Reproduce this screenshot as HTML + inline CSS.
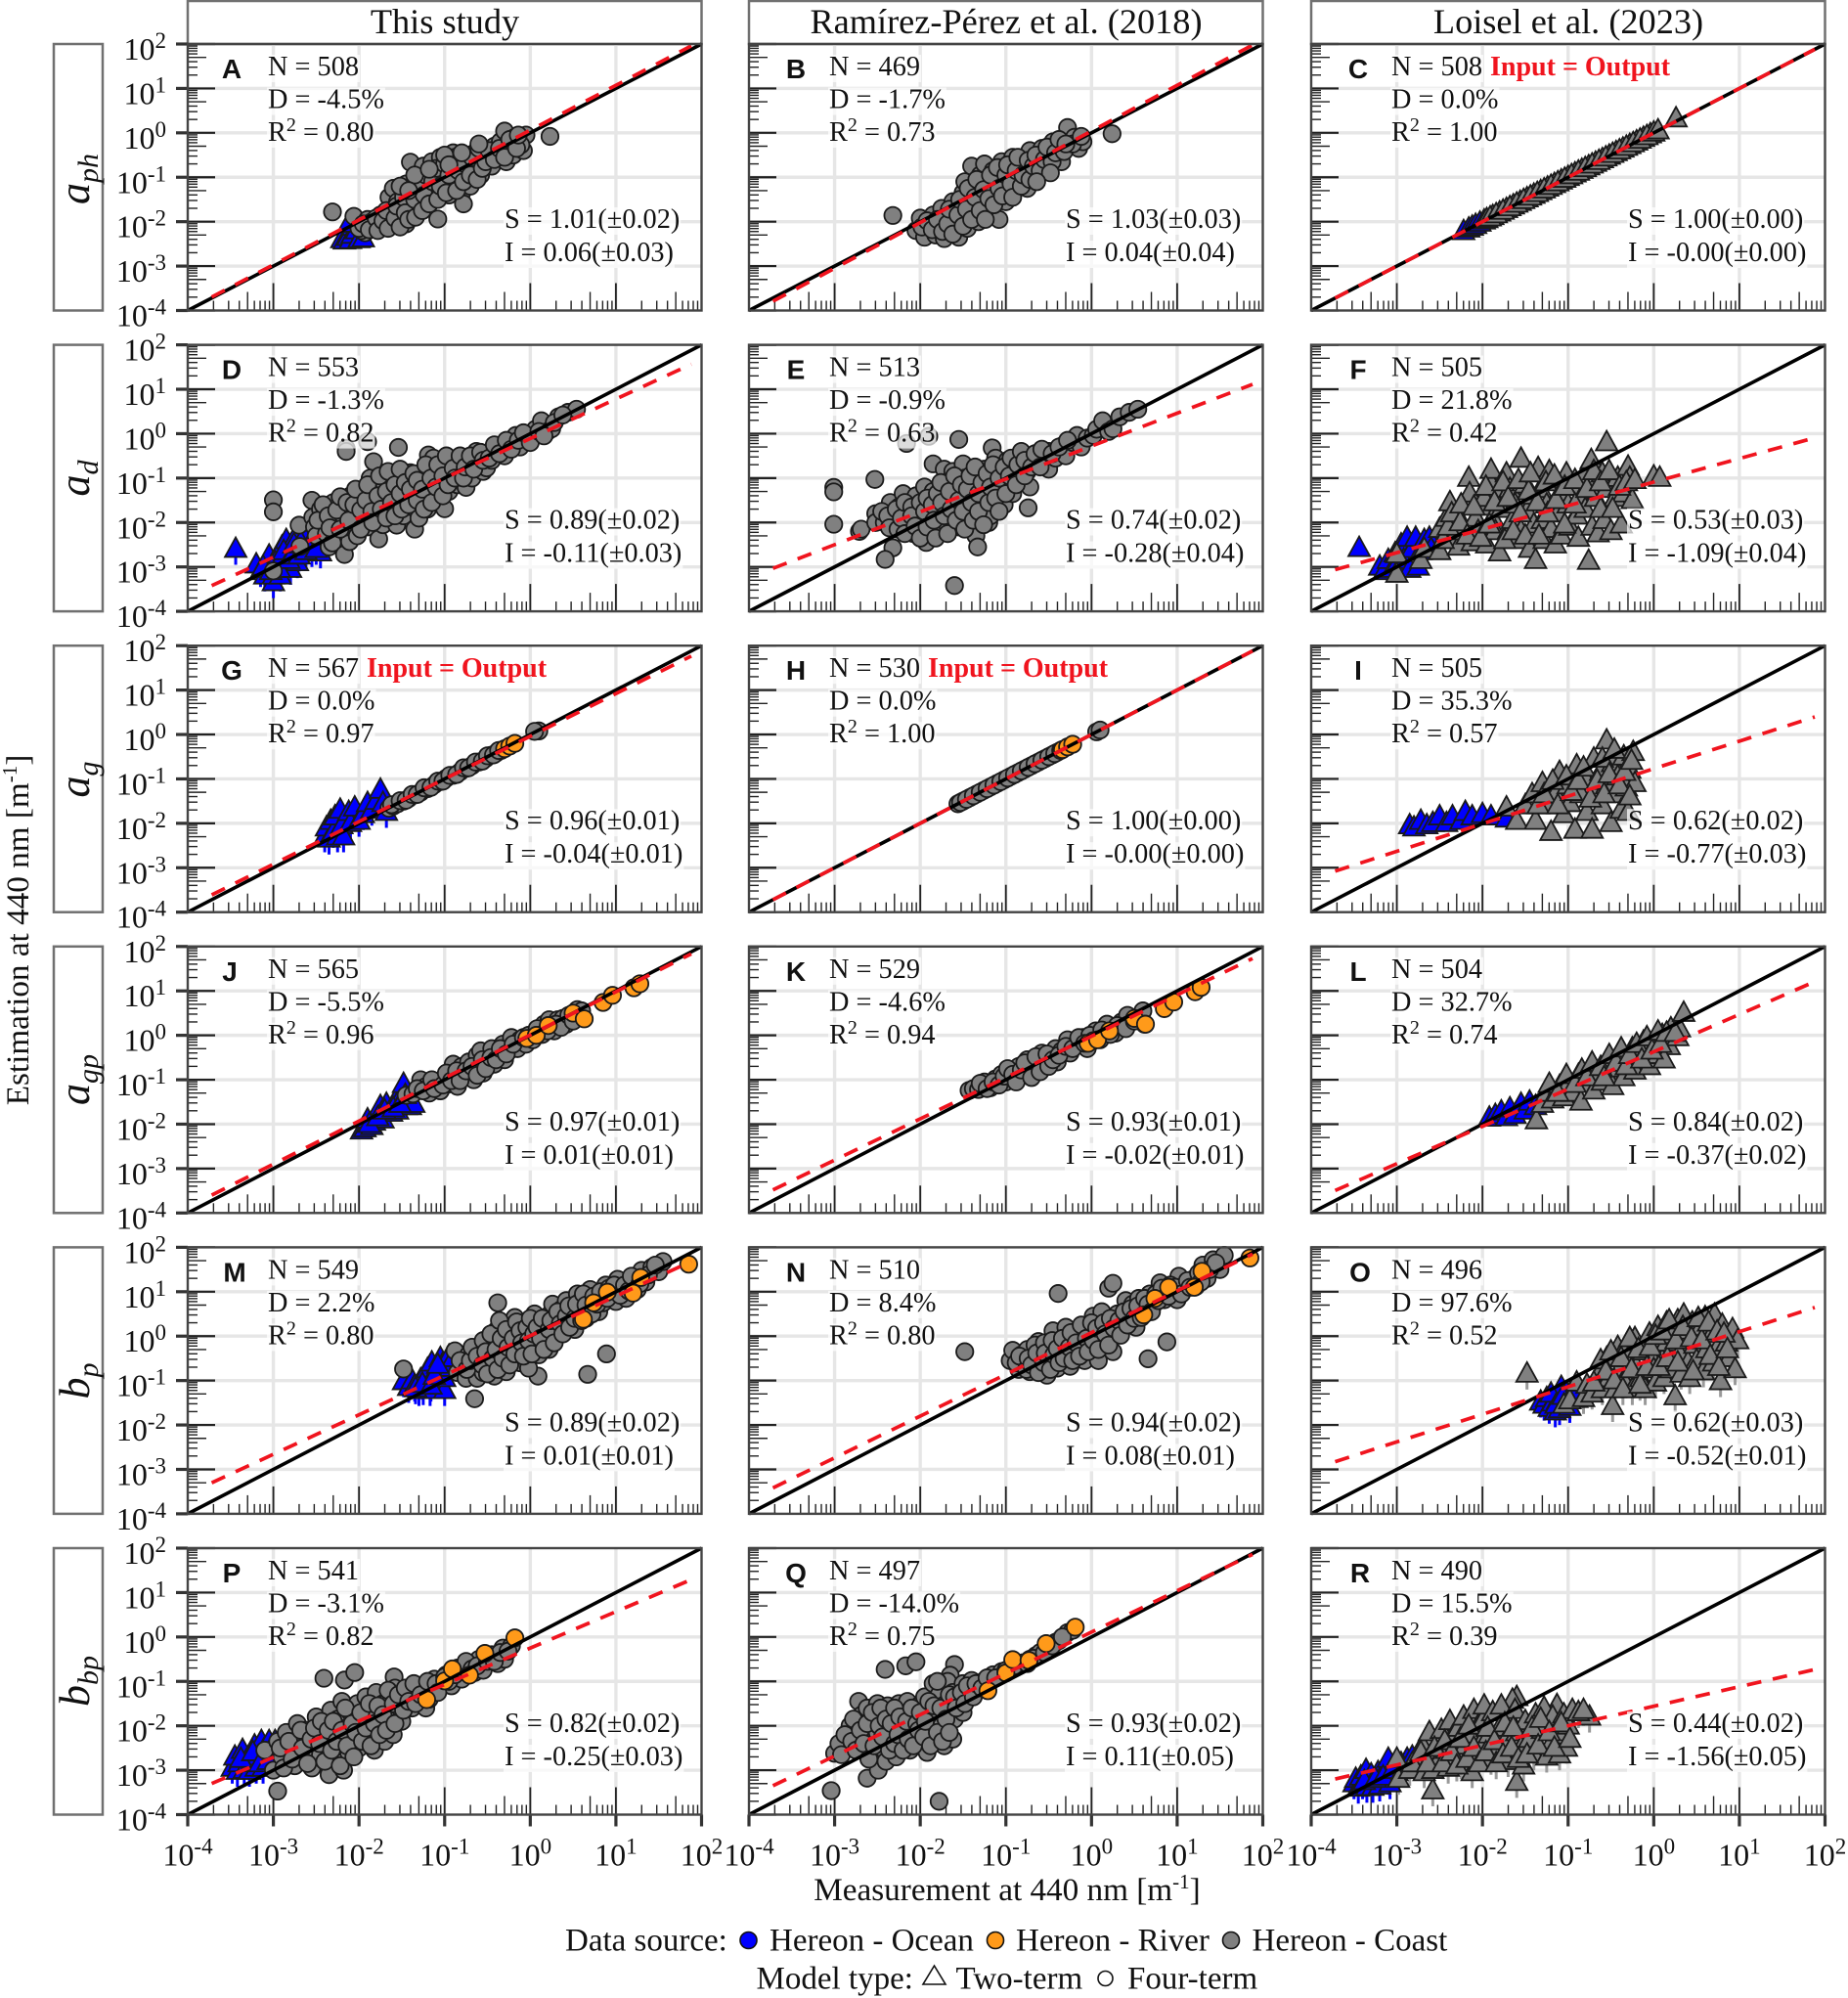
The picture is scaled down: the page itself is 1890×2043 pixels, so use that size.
<!DOCTYPE html>
<html lang="en">
<head>
<meta charset="utf-8">
<title>Estimation vs measurement at 440 nm</title>
<style>
html,body{margin:0;padding:0;background:#fff}
svg{display:block;font-family:"Liberation Serif",serif;fill:#111}
.st{font-size:28.3px}
.sup{font-size:20px}
.letter{font-family:"Liberation Sans",sans-serif;font-weight:bold;font-size:28px;text-anchor:middle;fill:#111}
.io{font-size:28px;font-weight:bold;fill:#f0141e}
.head{font-size:36.3px;text-anchor:middle}
.rowlab{font-size:44px;font-style:italic;text-anchor:middle}
.rowlab tspan{font-size:30px}
.title{font-size:33.2px}
.leg{font-size:33px}
.box{fill:#fff;stroke:#707070;stroke-width:2.5}
.tl{font-size:32px}
</style>
</head>
<body>
<svg id="chart" xmlns="http://www.w3.org/2000/svg" width="1890" height="2043" viewBox="0 0 1890 2043">
<rect width="1890" height="2043" fill="#fff"/>

<g>
<rect class="box" x="192" y="1" width="525.5" height="44"/>
<text class="head" x="455" y="34">This study</text>
<rect class="box" x="766" y="1" width="525.5" height="44"/>
<text class="head" x="1029" y="34">Ramírez-Pérez et al. (2018)</text>
<rect class="box" x="1341" y="1" width="525.5" height="44"/>
<text class="head" x="1604" y="34">Loisel et al. (2023)</text>
</g>

<g>
<rect class="box" x="55" y="45" width="50" height="272.5"/>
<text class="rowlab" transform="translate(91,183) rotate(-90)">a<tspan dy="9">ph</tspan></text>
<rect class="box" x="55" y="352.6" width="50" height="272.5"/>
<text class="rowlab" transform="translate(91,489) rotate(-90)">a<tspan dy="9">d</tspan></text>
<rect class="box" x="55" y="660.2" width="50" height="272.5"/>
<text class="rowlab" transform="translate(91,797) rotate(-90)">a<tspan dy="9">g</tspan></text>
<rect class="box" x="55" y="967.8" width="50" height="272.5"/>
<text class="rowlab" transform="translate(91,1104) rotate(-90)">a<tspan dy="9">gp</tspan></text>
<rect class="box" x="55" y="1275.4" width="50" height="272.5"/>
<text class="rowlab" transform="translate(91,1412) rotate(-90)">b<tspan dy="9">p</tspan></text>
<rect class="box" x="55" y="1583" width="50" height="272.5"/>
<text class="rowlab" transform="translate(91,1719) rotate(-90)">b<tspan dy="9">bp</tspan></text>
</g>

<text class="title" transform="translate(29,951) rotate(-90)" text-anchor="middle">Estimation at 440 nm [m<tspan font-size="21" dy="-12">-1</tspan><tspan dy="12">]</tspan></text>
<text class="title" x="1030" y="1943" text-anchor="middle">Measurement at 440 nm [m<tspan font-size="21" dy="-12">-1</tspan><tspan dy="12">]</tspan></text>

<g class="panel" transform="translate(192,45)"><g class="marks"></g>
<text class="letter" x="45" y="35">A</text>
<text class="st" x="82" y="32">N = 508</text>
<text class="st" x="82" y="65.5">D = -4.5%</text>
<text class="st" x="82" y="99">R<tspan class="sup" dy="-10">2</tspan><tspan dy="10"> = 0.80</tspan></text>
<text class="st" x="324" y="188">S = 1.01(±0.02)</text>
<text class="st" x="324" y="222">I = 0.06(±0.03)</text></g>

<g class="panel" transform="translate(766,45)"><g class="marks"></g>
<text class="letter" x="48" y="35">B</text>
<text class="st" x="82" y="32">N = 469</text>
<text class="st" x="82" y="65.5">D = -1.7%</text>
<text class="st" x="82" y="99">R<tspan class="sup" dy="-10">2</tspan><tspan dy="10"> = 0.73</tspan></text>
<text class="st" x="324" y="188">S = 1.03(±0.03)</text>
<text class="st" x="324" y="222">I = 0.04(±0.04)</text></g>

<g class="panel" transform="translate(1341,45)"><g class="marks"></g>
<text class="letter" x="48" y="35">C</text>
<text class="st" x="82" y="32">N = 508</text>
<text class="io" x="183" y="32">Input = Output</text>
<text class="st" x="82" y="65.5">D = 0.0%</text>
<text class="st" x="82" y="99">R<tspan class="sup" dy="-10">2</tspan><tspan dy="10"> = 1.00</tspan></text>
<text class="st" x="324" y="188">S = 1.00(±0.00)</text>
<text class="st" x="324" y="222">I = -0.00(±0.00)</text></g>

<g class="panel" transform="translate(192,352.6)"><g class="marks"></g>
<text class="letter" x="45" y="35">D</text>
<text class="st" x="82" y="32">N = 553</text>
<text class="st" x="82" y="65.5">D = -1.3%</text>
<text class="st" x="82" y="99">R<tspan class="sup" dy="-10">2</tspan><tspan dy="10"> = 0.82</tspan></text>
<text class="st" x="324" y="188">S = 0.89(±0.02)</text>
<text class="st" x="324" y="222">I = -0.11(±0.03)</text></g>

<g class="panel" transform="translate(766,352.6)"><g class="marks"></g>
<text class="letter" x="48" y="35">E</text>
<text class="st" x="82" y="32">N = 513</text>
<text class="st" x="82" y="65.5">D = -0.9%</text>
<text class="st" x="82" y="99">R<tspan class="sup" dy="-10">2</tspan><tspan dy="10"> = 0.63</tspan></text>
<text class="st" x="324" y="188">S = 0.74(±0.02)</text>
<text class="st" x="324" y="222">I = -0.28(±0.04)</text></g>

<g class="panel" transform="translate(1341,352.6)"><g class="marks"></g>
<text class="letter" x="48" y="35">F</text>
<text class="st" x="82" y="32">N = 505</text>
<text class="st" x="82" y="65.5">D = 21.8%</text>
<text class="st" x="82" y="99">R<tspan class="sup" dy="-10">2</tspan><tspan dy="10"> = 0.42</tspan></text>
<text class="st" x="324" y="188">S = 0.53(±0.03)</text>
<text class="st" x="324" y="222">I = -1.09(±0.04)</text></g>

<g class="panel" transform="translate(192,660.2)"><g class="marks"></g>
<text class="letter" x="45" y="35">G</text>
<text class="st" x="82" y="32">N = 567</text>
<text class="io" x="183" y="32">Input = Output</text>
<text class="st" x="82" y="65.5">D = 0.0%</text>
<text class="st" x="82" y="99">R<tspan class="sup" dy="-10">2</tspan><tspan dy="10"> = 0.97</tspan></text>
<text class="st" x="324" y="188">S = 0.96(±0.01)</text>
<text class="st" x="324" y="222">I = -0.04(±0.01)</text></g>

<g class="panel" transform="translate(766,660.2)"><g class="marks"></g>
<text class="letter" x="48" y="35">H</text>
<text class="st" x="82" y="32">N = 530</text>
<text class="io" x="183" y="32">Input = Output</text>
<text class="st" x="82" y="65.5">D = 0.0%</text>
<text class="st" x="82" y="99">R<tspan class="sup" dy="-10">2</tspan><tspan dy="10"> = 1.00</tspan></text>
<text class="st" x="324" y="188">S = 1.00(±0.00)</text>
<text class="st" x="324" y="222">I = -0.00(±0.00)</text></g>

<g class="panel" transform="translate(1341,660.2)"><g class="marks"></g>
<text class="letter" x="48" y="35">I</text>
<text class="st" x="82" y="32">N = 505</text>
<text class="st" x="82" y="65.5">D = 35.3%</text>
<text class="st" x="82" y="99">R<tspan class="sup" dy="-10">2</tspan><tspan dy="10"> = 0.57</tspan></text>
<text class="st" x="324" y="188">S = 0.62(±0.02)</text>
<text class="st" x="324" y="222">I = -0.77(±0.03)</text></g>

<g class="panel" transform="translate(192,967.8)"><g class="marks"></g>
<text class="letter" x="43" y="35">J</text>
<text class="st" x="82" y="32">N = 565</text>
<text class="st" x="82" y="65.5">D = -5.5%</text>
<text class="st" x="82" y="99">R<tspan class="sup" dy="-10">2</tspan><tspan dy="10"> = 0.96</tspan></text>
<text class="st" x="324" y="188">S = 0.97(±0.01)</text>
<text class="st" x="324" y="222">I = 0.01(±0.01)</text></g>

<g class="panel" transform="translate(766,967.8)"><g class="marks"></g>
<text class="letter" x="48" y="35">K</text>
<text class="st" x="82" y="32">N = 529</text>
<text class="st" x="82" y="65.5">D = -4.6%</text>
<text class="st" x="82" y="99">R<tspan class="sup" dy="-10">2</tspan><tspan dy="10"> = 0.94</tspan></text>
<text class="st" x="324" y="188">S = 0.93(±0.01)</text>
<text class="st" x="324" y="222">I = -0.02(±0.01)</text></g>

<g class="panel" transform="translate(1341,967.8)"><g class="marks"></g>
<text class="letter" x="48" y="35">L</text>
<text class="st" x="82" y="32">N = 504</text>
<text class="st" x="82" y="65.5">D = 32.7%</text>
<text class="st" x="82" y="99">R<tspan class="sup" dy="-10">2</tspan><tspan dy="10"> = 0.74</tspan></text>
<text class="st" x="324" y="188">S = 0.84(±0.02)</text>
<text class="st" x="324" y="222">I = -0.37(±0.02)</text></g>

<g class="panel" transform="translate(192,1275.4)"><g class="marks"></g>
<text class="letter" x="48" y="35">M</text>
<text class="st" x="82" y="32">N = 549</text>
<text class="st" x="82" y="65.5">D = 2.2%</text>
<text class="st" x="82" y="99">R<tspan class="sup" dy="-10">2</tspan><tspan dy="10"> = 0.80</tspan></text>
<text class="st" x="324" y="188">S = 0.89(±0.02)</text>
<text class="st" x="324" y="222">I = 0.01(±0.01)</text></g>

<g class="panel" transform="translate(766,1275.4)"><g class="marks"></g>
<text class="letter" x="48" y="35">N</text>
<text class="st" x="82" y="32">N = 510</text>
<text class="st" x="82" y="65.5">D = 8.4%</text>
<text class="st" x="82" y="99">R<tspan class="sup" dy="-10">2</tspan><tspan dy="10"> = 0.80</tspan></text>
<text class="st" x="324" y="188">S = 0.94(±0.02)</text>
<text class="st" x="324" y="222">I = 0.08(±0.01)</text></g>

<g class="panel" transform="translate(1341,1275.4)"><g class="marks"></g>
<text class="letter" x="50" y="35">O</text>
<text class="st" x="82" y="32">N = 496</text>
<text class="st" x="82" y="65.5">D = 97.6%</text>
<text class="st" x="82" y="99">R<tspan class="sup" dy="-10">2</tspan><tspan dy="10"> = 0.52</tspan></text>
<text class="st" x="324" y="188">S = 0.62(±0.03)</text>
<text class="st" x="324" y="222">I = -0.52(±0.01)</text></g>

<g class="panel" transform="translate(192,1583)"><g class="marks"></g>
<text class="letter" x="45" y="35">P</text>
<text class="st" x="82" y="32">N = 541</text>
<text class="st" x="82" y="65.5">D = -3.1%</text>
<text class="st" x="82" y="99">R<tspan class="sup" dy="-10">2</tspan><tspan dy="10"> = 0.82</tspan></text>
<text class="st" x="324" y="188">S = 0.82(±0.02)</text>
<text class="st" x="324" y="222">I = -0.25(±0.03)</text></g>

<g class="panel" transform="translate(766,1583)"><g class="marks"></g>
<text class="letter" x="48" y="35">Q</text>
<text class="st" x="82" y="32">N = 497</text>
<text class="st" x="82" y="65.5">D = -14.0%</text>
<text class="st" x="82" y="99">R<tspan class="sup" dy="-10">2</tspan><tspan dy="10"> = 0.75</tspan></text>
<text class="st" x="324" y="188">S = 0.93(±0.02)</text>
<text class="st" x="324" y="222">I = 0.11(±0.05)</text></g>

<g class="panel" transform="translate(1341,1583)"><g class="marks"></g>
<text class="letter" x="50" y="35">R</text>
<text class="st" x="82" y="32">N = 490</text>
<text class="st" x="82" y="65.5">D = 15.5%</text>
<text class="st" x="82" y="99">R<tspan class="sup" dy="-10">2</tspan><tspan dy="10"> = 0.39</tspan></text>
<text class="st" x="324" y="188">S = 0.44(±0.02)</text>
<text class="st" x="324" y="222">I = -1.56(±0.05)</text></g>

<g>
<text class="leg" x="578" y="1994.5">Data source:</text>
<circle cx="765.5" cy="1984" r="8.5" fill="#0000ff" stroke="#111" stroke-width="1.6"/>
<text class="leg" x="787" y="1994.5">Hereon - Ocean</text>
<circle cx="1018" cy="1984" r="8.5" fill="#ff9a1a" stroke="#111" stroke-width="1.6"/>
<text class="leg" x="1039" y="1994.5">Hereon - River</text>
<circle cx="1259" cy="1984" r="8.5" fill="#808080" stroke="#111" stroke-width="1.6"/>
<text class="leg" x="1280.5" y="1994.5">Hereon - Coast</text>
<text class="leg" x="773.5" y="2033.5">Model type:</text>
<polygon points="955.5,2010 967,2029 944,2029" fill="none" stroke="#111" stroke-width="1.6"/>
<text class="leg" x="977.5" y="2033.5">Two-term</text>
<circle cx="1130.5" cy="2023" r="7.5" fill="none" stroke="#111" stroke-width="1.6"/>
<text class="leg" x="1153" y="2033.5">Four-term</text>
</g>
</svg>

<script>
const panelLetters = ['A','B','C','D','E','F','G','H','I','J','K','L','M','N','O','P','Q','R'];
const slopes =     [1.01,1.03,1.00, 0.89,0.74,0.53, 0.96,1.00,0.62, 0.97,0.93,0.84, 0.89,0.94,0.62, 0.82,0.93,0.44];
const intercepts = [0.06,0.04,0.00,-0.11,-0.28,-1.09,-0.04,0.00,-0.77,0.01,-0.02,-0.37,0.01,0.08,-0.52,-0.25,0.11,-1.56];
const fitStart = -3.72;
const fitEnd = 1.88;
const decadeExponents = [-4,-3,-2,-1,0,1,2];
const decadeLabels = ['-4','-3','-2','-1','0','1','2'];
const minorMultipliers = [2,3,4,5,6,7,8,9];

const oceanA=[[-2.2,-2.4],[-2.17,-2.43],[-2.13,-2.35],[-2.1,-2.42],[-2.07,-2.12],[-2.08,-2.3],[-2.03,-2.2],[-2.0,-2.4],[-1.95,-2.38],[-2.12,-2.05]];
const coastA=[[-2.31,-1.78],[-2.06,-1.88],[-1.93,-2.25],[-1.97,-2.2],[-2.0,-2.15],[-1.9,-1.95],[-1.85,-2.0],[-1.82,-2.1],[-1.75,-1.85],[-1.75,-2.02],[-1.7,-2.1],[-1.65,-1.95],[-1.6,-1.8],[-1.62,-2.05],[-1.55,-2.02],[-1.5,-1.7],[-1.5,-1.9],[-1.45,-2.05],[-1.65,-1.45],[-1.6,-1.25],[-1.55,-1.55],[-1.48,-1.35],[-1.45,-1.15],[-1.4,-1.6],[-1.38,-1.75],[-1.4,-.66],[-1.3,-1.0],[-1.3,-1.35],[-1.3,-1.6],[-1.25,-.75],[-1.2,-1.15],[-1.2,-1.45],[-1.15,-.65],[-1.12,-.95],[-1.1,-1.3],[-1.08,-1.94],[-1.05,-.55],[-1.03,-.8],[-1.0,-1.1],[-.98,-.6],[-.95,-1.4],[-.92,-.9],[-.9,-1.2],[-.9,-.45],[-.85,-.7],[-.82,-1.05],[-.8,-1.35],[-.78,-1.6],[-.75,-.5],[-.72,-.85],[-.7,-1.2],[-.65,-.45],[-.62,-.7],[-.58,-.95],[-.55,-.4],[-.5,-.55],[-.45,-.75],[-.42,-.3],[-.38,-.55],[-.35,-.2],[-.32,-.45],[-.3,.04],[-.28,-.65],[-.25,-.3],[-.2,-.5],[-.18,-.1],[-.12,-.2],[-.08,-.4],[-.05,-.05],[-.11,-.27],[.23,-.08]];
const extraA=[[-1.95,-2.05],[-1.88,-2.18],[-1.8,-1.92],[-1.78,-2.2],[-1.72,-1.98],[-1.68,-1.75],[-1.66,-2.15],[-1.58,-1.92],[-1.56,-1.65],[-1.52,-2.12],[-1.48,-1.45],[-1.46,-1.8],[-1.42,-1.95],[-1.36,-1.2],[-1.35,-1.5],[-1.34,-1.9],[-1.28,-1.2],[-1.26,-1.75],[-1.24,-1.4],[-1.22,-.95],[-1.18,-1.6],[-1.14,-1.1],[-1.1,-.8],[-1.08,-1.5],[-1.05,-1.2],[-1,-.7],[-.98,-1.35],[-.95,-.95],[-.88,-.55],[-.86,-1.3],[-.84,-.85],[-.78,-1.1],[-.76,-.7],[-.7,-.95],[-.68,-.55],[-.62,-1.05],[-.6,-.35],[-.56,-.8],[-.52,-.65],[-.48,-.4],[-.42,-.6],[-.36,-.35],[-.3,-.55],[-.24,-.15],[-.16,-.35],[-.14,-.05],[-1.52,-1.2],[-1.35,-.95],[-1.42,-1.3],[-1.18,-.82],[-1.0,-.5],[-.8,-.45],[-.95,-.72],[-.6,-.25]];
const coastB=[[-2.32,-1.86],[-2.05,-2.2],[-2.0,-1.92],[-1.95,-2.35],[-1.9,-2.1],[-1.85,-1.85],[-1.82,-2.3],[-1.78,-2.05],[-1.75,-1.7],[-1.72,-2.38],[-1.7,-1.9],[-1.65,-2.2],[-1.62,-1.55],[-1.6,-2.0],[-1.58,-1.75],[-1.55,-2.35],[-1.5,-1.35],[-1.5,-1.9],[-1.48,-1.1],[-1.45,-2.15],[-1.42,-1.55],[-1.4,-.75],[-1.38,-1.8],[-1.35,-1.25],[-1.32,-2.0],[-1.3,-.95],[-1.28,-1.5],[-1.25,-.7],[-1.22,-1.15],[-1.2,-1.75],[-1.15,-.85],[-1.12,-1.35],[-1.1,-1.05],[-1.08,-1.95],[-1.05,-.65],[-1.02,-1.2],[-1.0,-1.55],[-.95,-.9],[-.92,-.55],[-.9,-1.3],[-.85,-1.05],[-.82,-.65],[-.78,-.85],[-.75,-1.25],[-.72,-.4],[-.68,-1.0],[-.62,-.6],[-.58,-.35],[-.55,-.85],[-.5,-.55],[-.45,-.2],[-.4,-.4],[-.35,-.65],[-.32,-.1],[-.28,.12],[-.25,-.3],[-.2,-.1],[-.15,-.35],[-.1,-.2],[.24,-.02]];
const extraB=[[-1.98,-2.12],[-1.92,-1.98],[-1.86,-2.18],[-1.8,-1.95],[-1.74,-2.22],[-1.68,-2.05],[-1.66,-1.72],[-1.62,-2.28],[-1.56,-1.85],[-1.54,-1.5],[-1.5,-2.1],[-1.46,-1.72],[-1.44,-1.25],[-1.4,-1.95],[-1.36,-1.45],[-1.34,-1.05],[-1.3,-1.75],[-1.26,-1.28],[-1.24,-1.95],[-1.2,-1.48],[-1.18,-.95],[-1.14,-1.62],[-1.1,-.78],[-1.08,-1.25],[-1.04,-1.42],[-1,-.95],[-.98,-.72],[-.94,-1.15],[-.92,-1.45],[-.88,-.85],[-.86,-.55],[-.82,-1.2],[-.8,-.95],[-.74,-.62],[-.72,-1.05],[-.68,-.75],[-.65,-.5],[-.6,-.85],[-.55,-.6],[-.52,-.32],[-.46,-.65],[-.42,-.45],[-.38,-.15],[-.32,-.42],[-.22,-.25],[-.12,-.08],[-.48,-.9],[-.64,-1.1],[-.3,-.25]];
const oceanC=[[-2.22,-2.22],[-2.16,-2.16],[-2.12,-2.12],[-2.08,-2.08],[-2.03,-2.03],[-1.98,-1.98]];
const coastC=[[-1.95,-1.95],[-1.88,-1.88],[-1.8,-1.8],[-1.72,-1.72],[-1.64,-1.64],[-1.56,-1.56],[-1.48,-1.48],[-1.4,-1.4],[-1.32,-1.32],[-1.24,-1.24],[-1.16,-1.16],[-1.08,-1.08],[-1.0,-1.0],[-.92,-.92],[-.84,-.84],[-.76,-.76],[-.68,-.68],[-.6,-.6],[-.52,-.52],[-.44,-.44],[-.36,-.36],[-.28,-.28],[-.2,-.2],[-.12,-.12],[-.04,-.04],[.26,.32]];
const extraC=[[-1.91,-1.91],[-1.84,-1.84],[-1.76,-1.76],[-1.68,-1.68],[-1.6,-1.6],[-1.52,-1.52],[-1.44,-1.44],[-1.36,-1.36],[-1.28,-1.28],[-1.2,-1.2],[-1.12,-1.12],[-1.04,-1.04],[-.96,-.96],[-.88,-.88],[-.8,-.8],[-.72,-.72],[-.64,-.64],[-.56,-.56],[-.48,-.48],[-.4,-.4],[-.32,-.32],[-.24,-.24],[-.16,-.16],[-.08,-.08],[0,0],[.05,.05]];
const oceanD=[[-3.44,-2.6],[-3.2,-2.95],[-3.15,-3.1],[-3.1,-3.2],[-3.07,-3.05],[-3.05,-2.75],[-3.0,-3.35],[-3.0,-3.2],[-2.95,-2.75],[-2.92,-3.2],[-2.9,-2.55],[-2.85,-2.4],[-2.85,-2.95],[-2.8,-3.05],[-2.8,-2.6],[-2.75,-2.35],[-2.72,-2.9],[-2.65,-2.55],[-2.55,-2.65],[-2.45,-2.68],[-2.6,-2.3]];
const oceanExtraD=[[-3.12,-3.0],[-3.03,-3.1],[-2.98,-2.9],[-2.93,-3.05],[-2.9,-2.8],[-2.88,-2.65],[-2.82,-2.85],[-2.78,-2.75],[-2.76,-2.5],[-2.7,-2.75],[-2.68,-2.45],[-2.62,-2.65],[-2.58,-2.5],[-2.5,-2.6]];
const coastD=[[-2.15,-.33],[-2.15,-.4],[-1.9,-.18],[-1.54,-.31],[-3.0,-1.49],[-3.0,-1.76],[-2.7,-2.06],[-3,-3.09],[-2.69,-2.54],[-2.55,-1.5],[-2.54,-1.88],[-2.52,-2.1],[-2.5,-2.3],[-2.45,-1.7],[-2.4,-2.0],[-2.38,-2.25],[-2.35,-2.55],[-2.32,-1.75],[-2.3,-1.55],[-2.28,-2.0],[-2.25,-2.3],[-2.31,-2.46],[-2.17,-2.72],[-2.11,-2.43],[-2.2,-1.6],[-2.18,-1.85],[-2.15,-2.1],[-2.1,-1.4],[-2.08,-1.75],[-2.05,-2.05],[-2.02,-2.3],[-2.0,-1.55],[-1.95,-1.85],[-1.95,-1.35],[-1.9,-2.1],[-1.88,-1.6],[-1.87,-1.0],[-1.83,-.63],[-1.82,-1.3],[-1.8,-1.85],[-1.77,-2.37],[-1.75,-1.55],[-1.72,-2.05],[-1.7,-1.15],[-1.65,-1.75],[-1.62,-.88],[-1.6,-1.35],[-1.56,-2.06],[-1.55,-1.6],[-1.5,-1.05],[-1.48,-1.85],[-1.45,-1.4],[-1.4,-.88],[-1.38,-1.65],[-1.35,-2.15],[-1.35,-1.15],[-1.3,-1.9],[-1.28,-1.45],[-1.25,-.95],[-1.2,-1.7],[-1.19,-.48],[-1.18,-1.25],[-1.13,-.55],[-1.12,-1.45],[-1.1,-.85],[-1.05,-1.1],[-1,-1.69],[-.98,-.7],[-.95,-1.3],[-.92,-.95],[-.88,-.6],[-.85,-1.15],[-.8,-.8],[-.79,-.59],[-.75,-1.21],[-.72,-.7],[-.68,-1.0],[-.63,-.4],[-.6,-.6],[-.55,-.85],[-.51,-.77],[-.5,-.45],[-.45,-.6],[-.4,-.35],[-.33,-.26],[-.3,-.5],[-.22,-.2],[-.17,-.04],[-.12,-.3],[-.05,-.1],[.02,-.04],[.06,.1],[.13,.29],[.2,.05],[.25,.11],[.33,.38],[.44,.48],[.54,.55]];
const extraD=[[-2.48,-1.95],[-2.42,-1.6],[-2.36,-1.85],[-2.34,-2.12],[-2.26,-1.72],[-2.22,-2.15],[-2.22,-1.42],[-2.14,-1.55],[-2.12,-1.95],[-2.06,-1.6],[-2.04,-1.25],[-1.98,-2.15],[-1.98,-1.72],[-1.92,-1.5],[-1.9,-1.15],[-1.85,-1.75],[-1.84,-2.0],[-1.78,-1.4],[-1.76,-.95],[-1.74,-1.7],[-1.68,-1.9],[-1.68,-1.3],[-1.66,-.85],[-1.62,-1.55],[-1.58,-1.15],[-1.58,-1.85],[-1.52,-.8],[-1.52,-1.35],[-1.5,-1.7],[-1.46,-1.1],[-1.42,-1.6],[-1.4,-1.25],[-1.36,-.9],[-1.32,-1.5],[-1.32,-1.05],[-1.26,-1.25],[-1.24,-1.7],[-1.22,-.7],[-1.16,-1.0],[-1.15,-1.55],[-1.1,-1.2],[-1.08,-.7],[-1.02,-.95],[-1.02,-1.4],[-.98,-.5],[-.96,-1.15],[-.9,-.78],[-.88,-1.0],[-.82,-.5],[-.78,-1.0],[-.76,-.75],[-.7,-.5],[-.66,-.8],[-.58,-.42],[-.55,-.6],[-.48,-.55],[-.42,-.25],[-.36,-.45],[-.28,-.15],[-.22,-.35],[-.14,-.15],[-.08,.02],[.0,-.2],[.1,.05],[.16,-.05],[.28,.25],[.38,.42]];
const coastE=[[-2.16,-.22],[-1.9,-.06],[-1.55,-.13],[-3.01,-1.21],[-3.01,-1.31],[-2.53,-1.03],[-3.01,-2.04],[-2.71,-2.2],[-2.69,-2.15],[-2.32,-2.57],[-2.41,-2.83],[-1.6,-3.42],[-.74,-1.67],[-2.52,-1.8],[-2.52,-2.0],[-2.42,-2.0],[-2.35,-1.55],[-2.3,-1.95],[-2.25,-1.65],[-2.2,-1.35],[-2.15,-1.75],[-2.12,-2.0],[-2.08,-2.25],[-2.05,-1.4],[-2.02,-1.65],[-2.0,-1.9],[-1.95,-1.2],[-1.93,-2.45],[-1.9,-1.55],[-1.88,-2.1],[-1.85,-.68],[-1.85,-1.3],[-1.8,-1.75],[-1.78,-2.2],[-1.72,-.8],[-1.7,-1.45],[-1.7,-2.0],[-1.65,-1.1],[-1.62,-.85],[-1.6,-1.6],[-1.55,-1.3],[-1.55,-2.1],[-1.5,-.68],[-1.48,-1.0],[-1.45,-1.5],[-1.4,-1.8],[-1.38,-1.2],[-1.35,-2.3],[-1.33,-2.55],[-1.3,-1.05],[-1.28,-1.55],[-1.25,-.8],[-1.22,-1.35],[-1.2,-2.0],[-1.18,-1.85],[-1.16,-.32],[-1.12,-.55],[-1.12,-1.2],[-1.05,-.85],[-1.02,-1.6],[-1,-1.1],[-.98,-.6],[-.92,-1.35],[-.9,-.9],[-.85,-.7],[-.82,-1.1],[-.8,-.55],[-.75,-.85],[-.72,-1.2],[-.68,-.6],[-.62,-.45],[-.55,-.7],[-.5,-.8],[-.5,-.4],[-.42,-.55],[-.33,-.26],[-.3,-.5],[-.22,-.2],[-.17,-.04],[-.12,-.3],[-.05,-.1],[.02,-.04],[.06,.1],[.13,.29],[.2,.05],[.25,.11],[.33,.38],[.44,.48],[.54,.55]];
const extraE=[[-2.45,-1.75],[-2.38,-1.85],[-2.36,-2.12],[-2.28,-1.7],[-2.26,-2.15],[-2.22,-1.9],[-2.18,-1.55],[-2.18,-2.25],[-2.1,-1.65],[-2.1,-1.85],[-2.06,-2.08],[-2.0,-1.55],[-2.0,-2.35],[-1.95,-1.75],[-1.92,-1.45],[-1.92,-2.1],[-1.86,-1.6],[-1.84,-1.95],[-1.82,-2.35],[-1.8,-1.35],[-1.76,-1.1],[-1.75,-1.55],[-1.72,-1.85],[-1.68,-2.25],[-1.66,-1.3],[-1.64,-1.7],[-1.6,-.95],[-1.58,-1.95],[-1.55,-1.5],[-1.52,-1.15],[-1.5,-1.75],[-1.48,-2.15],[-1.45,-1.25],[-1.42,-.95],[-1.4,-1.55],[-1.38,-1.95],[-1.36,-.75],[-1.32,-1.35],[-1.32,-1.75],[-1.28,-1.1],[-1.26,-2.05],[-1.22,-.9],[-1.2,-1.55],[-1.18,-1.2],[-1.15,-.7],[-1.12,-1.45],[-1.08,-1.0],[-1.08,-1.75],[-1.02,-.75],[-1,-1.35],[-.96,-.95],[-.94,-.55],[-.88,-1.15],[-.86,-.7],[-.82,-.4],[-.78,-.6],[-.78,-.95],[-.7,-.75],[-.66,-.45],[-.6,-.75],[-.58,-.35],[-.46,-.45],[-.38,-.3],[-.28,-.15]];
const oceanF=[[-3.44,-2.58],[-3.2,-3.0],[-3.15,-3.1],[-3.1,-2.85],[-3.05,-3.05],[-3.02,-2.7],[-3.0,-2.95],[-2.95,-2.5],[-2.92,-2.85],[-2.88,-2.35],[-2.85,-3.05],[-2.82,-2.6],[-2.78,-2.35],[-2.75,-3.0],[-2.72,-2.65],[-2.68,-2.4],[-2.62,-2.35],[-2.6,-2.6]];
const coastF=[[-3,-3.16],[-3.0,-2.72],[-2.72,-2.85],[-2.68,-2.6],[-2.5,-2.65],[-2.5,-2.15],[-2.42,-1.9],[-2.38,-1.55],[-2.35,-2.4],[-2.3,-1.8],[-2.28,-2.55],[-2.22,-2.2],[-2.2,-1.6],[-2.16,-1.0],[-2.15,-1.35],[-2.12,-2.45],[-2.08,-1.9],[-2.05,-2.2],[-2.02,-1.65],[-1.98,-1.45],[-1.95,-2.5],[-1.92,-1.05],[-1.9,-.82],[-1.88,-1.9],[-1.85,-2.2],[-1.82,-1.4],[-1.8,-2.68],[-1.78,-1.7],[-1.72,-.9],[-1.7,-2.2],[-1.68,-1.25],[-1.65,-1.95],[-1.62,-1.6],[-1.6,-2.4],[-1.55,-.57],[-1.55,-2.2],[-1.5,-1.15],[-1.48,-1.75],[-1.45,-2.6],[-1.42,-1.4],[-1.4,-2.05],[-1.38,-2.85],[-1.35,-.78],[-1.32,-1.25],[-1.3,-1.95],[-1.28,-2.4],[-1.25,-1.6],[-1.22,-.85],[-1.2,-2.15],[-1.18,-1.05],[-1.15,-2.5],[-1.12,-1.8],[-1.1,-1.35],[-1.08,-2.3],[-1.02,-.9],[-1.0,-1.6],[-.98,-2.1],[-.95,-1.2],[-.9,-1.85],[-.88,-2.35],[-.85,-1.45],[-.82,-.95],[-.8,-1.7],[-.76,-2.87],[-.75,-1.15],[-.73,-.6],[-.72,-2.1],[-.68,-1.45],[-.65,-2.25],[-.6,-.9],[-.58,-1.95],[-.55,-.2],[-.55,-1.25],[-.5,-2.2],[-.45,-1.45],[-.42,-1.0],[-.38,-2.05],[-.35,-1.35],[-.3,-.75],[-.28,-1.0],[-.25,-1.5],[0,-.97],[.07,-1.0]];
const extraF=[[-2.46,-2.4],[-2.4,-2.1],[-2.36,-1.8],[-2.26,-2.0],[-2.25,-1.6],[-2.18,-2.3],[-2.1,-1.65],[-2.02,-2.35],[-1.96,-1.2],[-1.92,-2.05],[-1.86,-1.55],[-1.76,-1.1],[-1.74,-2.4],[-1.7,-1.45],[-1.64,-2.2],[-1.58,-1.05],[-1.56,-1.8],[-1.5,-2.3],[-1.46,-1.3],[-1.44,-.9],[-1.36,-1.55],[-1.34,-2.3],[-1.26,-1.1],[-1.24,-1.8],[-1.16,-.95],[-1.14,-1.5],[-1.04,-1.2],[-1.04,-2.05],[-.92,-1.05],[-.92,-1.6],[-.78,-1.25],[-.7,-.85],[-.62,-1.1],[-.62,-1.7],[-.52,-.85],[-.48,-1.7],[-.4,-1.2],[-.32,-1.1],[-.22,-1.05]];
const oceanG=[[-2.4,-2.3],[-2.38,-2.1],[-2.35,-2.35],[-2.33,-1.95],[-2.3,-2.2],[-2.28,-1.85],[-2.25,-2.3],[-2.22,-1.7],[-2.2,-2.05],[-2.18,-2.3],[-2.12,-1.75],[-2.1,-2.0],[-2.05,-1.65],[-2.0,-1.95],[-1.95,-1.8],[-1.9,-1.55],[-1.85,-1.7],[-1.8,-1.5],[-1.75,-1.25],[-1.72,-1.55],[-1.68,-1.75]];
const coastG=[[-1.65,-1.66],[-1.6,-1.61],[-1.55,-1.56],[-1.48,-1.5],[-1.42,-1.44],[-1.35,-1.36],[-1.28,-1.3],[-1.2,-1.22],[-1.12,-1.13],[-1.05,-1.06],[-.98,-.98],[-.9,-.92],[-.82,-.84],[-.75,-.76],[-.68,-.7],[-.6,-.62],[-.52,-.54],[-.46,-.47],[-.4,-.42],[-.34,-.36],[.1,.08],[.05,.07]];
const extraG=[[-1.62,-1.58],[-1.52,-1.49],[-1.45,-1.48],[-1.38,-1.35],[-1.32,-1.35],[-1.24,-1.2],[-1.16,-1.19],[-1.08,-1.05],[-1.02,-1.05],[-.94,-.92],[-.86,-.9],[-.78,-.75],[-.72,-.75],[-.64,-.62],[-.56,-.6],[-.5,-.48],[-.43,-.46],[-.37,-.36]];
const riverG=[[-.3,-.32],[-.24,-.26],[-.18,-.2]];
const coastH=[[-1.56,-1.56],[-1.5,-1.5],[-1.42,-1.42],[-1.34,-1.34],[-1.26,-1.26],[-1.18,-1.18],[-1.1,-1.1],[-1.02,-1.02],[-.94,-.94],[-.86,-.86],[-.78,-.78],[-.7,-.7],[-.62,-.62],[-.54,-.54],[-.46,-.46],[-.4,-.4],[.06,.06],[.1,.1]];
const extraH=[[-1.53,-1.53],[-1.46,-1.46],[-1.38,-1.38],[-1.3,-1.3],[-1.22,-1.22],[-1.14,-1.14],[-1.06,-1.06],[-.98,-.98],[-.9,-.9],[-.82,-.82],[-.74,-.74],[-.66,-.66],[-.58,-.58],[-.5,-.5],[-.43,-.43],[-.36,-.36]];
const riverH=[[-.34,-.34],[-.28,-.28],[-.22,-.22]];
const oceanI=[[-2.85,-2.05],[-2.8,-2.1],[-2.72,-1.95],[-2.65,-2.05],[-2.58,-2.0],[-2.5,-1.85],[-2.42,-2.0],[-2.35,-1.85],[-2.25,-1.95],[-2.2,-1.75],[-2.12,-1.85],[-2.0,-1.8],[-1.9,-1.85],[-1.72,-1.9]];
const coastI=[[-1.72,-1.65],[-1.6,-1.95],[-1.5,-1.6],[-1.42,-1.35],[-1.38,-1.95],[-1.3,-1.1],[-1.25,-1.6],[-1.2,-2.2],[-1.15,-1.35],[-1.1,-.85],[-1.05,-1.8],[-1,-1.15],[-.98,-1.55],[-.92,-2.15],[-.9,-.7],[-.85,-1.35],[-.8,-1.0],[-.78,-1.75],[-.72,-2.15],[-.7,-.55],[-.68,-1.3],[-.62,-.85],[-.6,-1.6],[-.55,-1.15],[-.55,-.14],[-.5,-2.0],[-.48,-.65],[-.45,-1.35],[-.42,-.95],[-.38,-1.7],[-.35,-.5],[-.32,-1.2],[-.3,-1.75],[-.28,-.8],[-.24,-.4],[-.22,-1.1]];
const extraI=[[-1.35,-1.6],[-1.28,-1.35],[-1.18,-1.05],[-1.12,-1.6],[-1.02,-.95],[-.96,-1.3],[-.88,-1.05],[-.82,-.75],[-.74,-1.45],[-.66,-1.05],[-.6,-.55],[-.58,-1.35],[-.52,-.9],[-.46,-.35],[-.4,-1.15],[-.34,-.85],[-.28,-1.4],[-.26,-.6]];
const oceanJ=[[-1.97,-2.15],[-1.93,-2.1],[-1.9,-1.9],[-1.85,-2.05],[-1.82,-1.95],[-1.8,-1.8],[-1.75,-1.6],[-1.72,-1.9],[-1.68,-1.55],[-1.62,-1.75],[-1.58,-1.5],[-1.55,-1.7],[-1.5,-1.35],[-1.48,-1.1],[-1.45,-1.6],[-1.42,-1.45],[-1.4,-1.6],[-1.36,-1.55]];
const coastJ=[[-1.45,-1.35],[-1.37,-1.32],[-1.28,-1.0],[-1.22,-1.15],[-1.18,-1.3],[-1.1,-1.08],[-1.05,-1.25],[-1.0,-.98],[-.96,-1.1],[-.9,-.65],[-.88,-.95],[-.85,-1.15],[-.8,-.7],[-.78,-.95],[-.72,-.6],[-.7,-.85],[-.66,-1.0],[-.62,-.45],[-.6,-.7],[-.58,-.35],[-.55,-.85],[-.5,-.6],[-.45,-.3],[-.42,-.65],[-.38,-.45],[-.32,-.2],[-.3,-.55],[-.25,-.35],[-.22,-.05],[-.15,-.3],[-.12,-.1],[-.05,-.2],[.1,.05],[.16,.25],[.22,.35],[.28,.1],[.32,.35],[.38,.38],[.42,.25],[.55,.58],[.6,.55]];
const extraJ=[[-1.32,-1.2],[-1.25,-1.25],[-1.15,-1.0],[-1.12,-1.2],[-1.02,-1.12],[-.98,-.85],[-.92,-1.02],[-.86,-.8],[-.82,-1.02],[-.75,-.8],[-.68,-.7],[-.62,-.9],[-.56,-.55],[-.52,-.75],[-.46,-.5],[-.4,-.55],[-.35,-.3],[-.28,-.42],[-.2,-.2],[-.08,-.05],[-.02,.0],[.03,-.1],[.08,.15],[.14,.02],[.2,.1],[.3,.25],[.36,.18],[.45,.45],[.5,.32]];
const riverJ=[[-.04,-.07],[.07,0],[.21,.22],[.5,.5],[.63,.37],[.85,.74],[.96,.9],[1.21,1.07],[1.28,1.16]];
const coastK=[[-1.43,-1.24],[-1.38,-1.2],[-1.32,-1.22],[-1.25,-1.05],[-1.18,-1.18],[-1.12,-.98],[-1.05,-.88],[-1.0,-1.05],[-.95,-.8],[-.9,-1.0],[-.85,-.7],[-.8,-.9],[-.75,-.55],[-.72,-.8],[-.68,-.62],[-.62,-.75],[-.58,-.4],[-.55,-.6],[-.48,-.5],[-.42,-.3],[-.4,-.6],[-.35,-.35],[-.28,-.1],[-.25,-.4],[-.18,-.2],[-.1,-.05],[-.05,-.3],[.05,.1],[.1,-.1],[.18,.25],[.28,.05],[.35,.3],[.42,.45],[.55,.4],[.6,.55],[.62,.25]];
const extraK=[[-1.3,-1.08],[-1.22,-1.2],[-1.15,-1.05],[-1.08,-1.12],[-1.02,-.92],[-.98,-.75],[-.92,-.88],[-.88,-1.05],[-.82,-.78],[-.78,-.62],[-.7,-.95],[-.65,-.48],[-.6,-.82],[-.52,-.42],[-.5,-.7],[-.45,-.55],[-.38,-.45],[-.3,-.25],[-.22,-.3],[-.15,-.05],[-.02,0],[-.08,-.18],[.02,-.12],[.12,.12],[.22,.02],[.3,.22],[.4,.15],[.5,.32]];
const riverK=[[-.04,-.18],[.07,-.1],[.21,.1],[.5,.38],[.63,.25],[.85,.6],[.96,.75],[1.21,.98],[1.28,1.08]];
const oceanL=[[-1.92,-1.86],[-1.85,-1.8],[-1.78,-1.72],[-1.72,-1.85],[-1.68,-1.65],[-1.62,-1.8],[-1.55,-1.55],[-1.5,-1.7],[-1.45,-1.5],[-1.38,-1.6]];
const coastL=[[-1.37,-1.92],[-1.3,-1.55],[-1.25,-1.3],[-1.18,-1.45],[-1.1,-1.15],[-1.05,-1.4],[-.98,-1.05],[-.95,-1.3],[-.88,-.9],[-.85,-1.5],[-.8,-1.1],[-.75,-.75],[-.7,-1.25],[-.65,-.9],[-.6,-1.05],[-.55,-.6],[-.5,-.85],[-.48,-1.15],[-.42,-.45],[-.4,-.75],[-.35,-.95],[-.3,-.55],[-.25,-.3],[-.22,-.8],[-.18,-.55],[-.12,-.15],[-.1,-.4],[-.05,-.7],[.02,-.2],[.05,-.45],[.1,0],[.18,-.25],[.2,.15],[.28,-.05],[.3,.15],[.35,.5],[.12,-.55]];
const extraL=[[-1.22,-1.1],[-1.12,-1.3],[-1.02,-.9],[-.92,-1.1],[-.84,-.78],[-.78,-.95],[-.72,-.62],[-.62,-.72],[-.58,-.95],[-.52,-.45],[-.44,-.62],[-.38,-.3],[-.32,-.7],[-.28,-.45],[-.2,-.2],[-.14,-.55],[-.08,-.05],[-.02,-.35],[.05,.08],[.08,-.2],[.15,.05],[.25,.05]];
const oceanM=[[-1.48,-1.02],[-1.42,-1.15],[-1.38,-1.0],[-1.35,-1.12],[-1.3,-1.22],[-1.28,-.98],[-1.25,-1.2],[-1.2,-1.05],[-1.2,-.75],[-1.17,-1.22],[-1.15,-.6],[-1.1,-.78],[-1.05,-.5],[-1.05,-1.05],[-1.02,-.62],[-1.0,-1.22],[-1.0,-.95],[-.95,-.45],[-.93,-.72],[-.9,-.5]];
const coastM=[[-1.48,-.74],[-.65,-1.41],[.09,-.9],[.67,-.86],[.89,-.4],[-.38,.75],[-.88,-.33],[-.85,-.82],[-.78,-.62],[-.75,-.95],[-.72,-.42],[-.66,-.72],[-.62,-.95],[-.6,-.25],[-.58,-.52],[-.55,-.82],[-.5,-.1],[-.48,-.62],[-.45,-.38],[-.42,-.9],[-.4,.12],[-.38,-.18],[-.35,-.62],[-.33,.3],[-.3,-.35],[-.28,-.8],[-.25,.05],[-.22,-.55],[-.2,.25],[-.18,.42],[-.15,-.2],[-.12,-.6],[-.1,.08],[-.08,.3],[-.05,-.32],[-.02,-.72],[.02,.12],[.05,.5],[.07,-.1],[.1,-.42],[.1,.3],[.15,-.15],[.18,.15],[.2,.45],[.22,-.3],[.26,.72],[.28,0],[.3,.35],[.33,.12],[.36,.6],[.4,.25],[.42,.8],[.48,.38],[.5,.65],[.52,.15],[.55,.95],[.58,.6],[.6,.82],[.65,.4],[.68,.6],[.7,1.05],[.75,.82],[.8,.55],[.85,.75],[.88,1.15],[.95,.95],[1.0,.78],[1.02,1.28],[1.08,1.0],[1.12,.85],[1.2,1.25],[1.25,1.05],[1.3,1.48],[1.35,1.22],[1.42,1.55],[1.5,1.45],[1.55,1.68]];
const extraM=[[-.82,-.55],[-.74,-.75],[-.7,-.55],[-.68,-.25],[-.62,-.45],[-.56,-.65],[-.55,-.1],[-.52,-.35],[-.5,-.85],[-.46,.05],[-.44,-.5],[-.4,-.3],[-.38,-.75],[-.36,.35],[-.34,-.05],[-.32,-.5],[-.28,.15],[-.26,-.25],[-.24,-.65],[-.2,-.05],[-.18,-.4],[-.16,.32],[-.12,.12],[-.1,-.15],[-.08,-.45],[-.04,.2],[-.02,-.1],[0,.4],[.02,-.4],[.04,.05],[.08,.2],[.12,-.05],[.14,.4],[.16,-.3],[.22,.15],[.24,.35],[.28,-.15],[.32,.55],[.35,.28],[.38,.05],[.42,.45],[.45,.68],[.46,.2],[.52,.4],[.54,.72],[.6,.35],[.62,.95],[.65,.7],[.72,.5],[.74,.9],[.78,.72],[.82,1.0],[.9,.85],[.92,1.08],[.98,1.15],[1.05,.92],[1.1,1.15],[1.15,1.02],[1.18,1.35],[1.28,1.18],[1.38,1.38],[1.46,1.6]];
const riverM=[[.62,.38],[.74,.75],[.9,.99],[1.2,.97],[1.29,1.32],[1.85,1.62]];
const coastN=[[-1.48,-.35],[-.39,.96],[.2,1.08],[.25,1.19],[.66,-.51],[.88,-.13],[-.95,-.55],[-.92,-.32],[-.85,-.75],[-.82,-.42],[-.78,-.6],[-.75,-.3],[-.72,-.8],[-.68,-.45],[-.62,-.12],[-.6,-.7],[-.58,-.32],[-.52,-.88],[-.5,-.5],[-.45,.12],[-.42,-.15],[-.4,-.72],[-.35,-.45],[-.3,.2],[-.28,-.1],[-.25,-.68],[-.2,-.4],[-.15,.05],[-.1,-.2],[-.08,-.55],[-.02,.15],[.02,.45],[.05,-.2],[.08,-.55],[.1,.1],[.12,.55],[.18,-.1],[.2,.3],[.25,-.35],[.28,.1],[.3,.5],[.35,.25],[.4,.8],[.45,.45],[.48,.72],[.52,.2],[.55,.85],[.6,.6],[.68,.95],[.72,.7],[.8,1.2],[.85,.82],[.95,.98],[1.0,.82],[1.02,1.35],[1.08,1.05],[1.2,1.3],[1.22,1.12],[1.3,1.6],[1.35,1.3],[1.42,1.72],[1.5,1.5],[1.55,1.82]];
const extraN=[[-.88,-.6],[-.84,-.45],[-.76,-.75],[-.74,-.5],[-.7,-.65],[-.66,-.2],[-.64,-.38],[-.62,-.82],[-.56,-.6],[-.55,-.15],[-.54,-.38],[-.48,-.75],[-.46,-.1],[-.44,-.42],[-.4,-.28],[-.38,-.6],[-.34,-.05],[-.32,-.5],[-.26,-.25],[-.24,.08],[-.22,-.55],[-.18,-.15],[-.14,-.45],[-.12,.25],[-.06,-.05],[-.04,-.35],[0,.3],[.02,-.1],[.06,.18],[.08,-.3],[.14,.3],[.16,.05],[.2,-.2],[.22,.4],[.26,.18],[.32,.35],[.34,.02],[.38,.55],[.42,.25],[.46,.62],[.5,.4],[.54,.68],[.58,.42],[.62,.85],[.66,.72],[.7,.55],[.75,.95],[.78,.8],[.82,1.08],[.9,.9],[.92,1.15],[.98,1.1],[1.05,.95],[1.12,1.25],[1.15,1.1],[1.25,1.42],[1.28,1.22],[1.38,1.5],[1.45,1.65]];
const riverN=[[.61,.48],[.74,.85],[.9,1.1],[1.2,1.1],[1.29,1.46],[1.85,1.76]];
const oceanO=[[-1.32,-1.48],[-1.28,-1.55],[-1.25,-1.4],[-1.22,-1.62],[-1.18,-1.5],[-1.15,-1.7],[-1.12,-1.45],[-1.1,-1.65],[-1.08,-1.15],[-1.05,-1.5],[-1.02,-1.28],[-.98,-1.6],[-.95,-1.2],[-.9,-1.42]];
const coastO=[[-1.48,-.85],[-1.05,-1.55],[-.98,-1.45],[-.9,-1.05],[-.82,-1.4],[-.78,-1.1],[-.72,-1.3],[-.65,-.9],[-.6,-1.2],[-.55,-.5],[-.52,-.95],[-.48,-1.58],[-.45,-1.2],[-.42,-.25],[-.4,-.75],[-.35,-1.0],[-.32,-.2],[-.3,-.5],[-.25,-1.2],[-.22,-.05],[-.2,-.7],[-.15,-.95],[-.12,-.35],[-.1,-1.2],[-.05,.05],[-.02,-.5],[0,-.75],[.02,-1.05],[.05,.2],[.08,-.25],[.1,-.55],[.12,-.95],[.15,.3],[.15,-.15],[.2,-.75],[.22,.02],[.25,-1.36],[.28,.35],[.3,-.4],[.32,-.85],[.35,.48],[.38,.12],[.4,-.6],[.42,-.95],[.45,.3],[.48,-.2],[.5,-.55],[.55,.2],[.58,-.8],[.6,.42],[.62,-.3],[.68,.05],[.7,-.6],[.71,.48],[.75,-.25],[.78,-1.02],[.8,.25],[.85,-.15],[.88,-.5],[.9,.05],[.92,.15],[.95,-.75],[.98,-.1]];
const extraO=[[-.7,-1.05],[-.62,-.55],[-.56,-.8],[-.5,-.35],[-.46,-1.0],[-.38,-.5],[-.36,-1.2],[-.28,-.05],[-.26,-.75],[-.18,-.3],[-.16,-1.1],[-.08,-.7],[-.04,-.25],[.02,.0],[.06,-.7],[.1,.1],[.16,-.5],[.18,.35],[.26,-.1],[.28,-.6],[.34,.2],[.44,-.05],[.46,-.8],[.52,.4],[.56,-.1],[.64,.3],[.66,-.45],[.74,.1],[.76,-.7],[.82,.05],[.86,-.3]];
const oceanP=[[-3.48,-2.95],[-3.45,-2.7],[-3.42,-3.02],[-3.4,-2.85],[-3.36,-2.55],[-3.34,-3.0],[-3.3,-2.75],[-3.28,-3.02],[-3.26,-2.85],[-3.22,-2.45],[-3.2,-2.95],[-3.18,-2.7],[-3.14,-2.35],[-3.12,-2.95],[-3.1,-2.5],[-3.08,-2.7],[-3.05,-2.35],[-3.02,-2.6],[-2.98,-2.35],[-2.96,-2.55]];
const coastP=[[-2.95,-3.47],[-2.41,-.93],[-2.17,-.97],[-2.05,-.8],[-1.59,-.9],[-3.1,-2.55],[-3.0,-3.0],[-2.95,-2.35],[-2.9,-2.7],[-2.85,-2.15],[-2.8,-2.5],[-2.75,-2.9],[-2.72,-1.95],[-2.7,-2.3],[-2.65,-2.7],[-2.62,-2.1],[-2.58,-2.5],[-2.55,-2.95],[-2.5,-1.8],[-2.48,-2.2],[-2.45,-2.65],[-2.42,-2.05],[-2.38,-2.45],[-2.35,-3.1],[-2.33,-1.65],[-2.3,-2.2],[-2.28,-2.75],[-2.25,-1.85],[-2.22,-2.4],[-2.2,-1.45],[-2.18,-3.0],[-2.15,-2.05],[-2.12,-2.6],[-2.1,-1.7],[-2.05,-2.25],[-2.02,-1.5],[-2.0,-2.5],[-1.95,-1.95],[-1.92,-1.35],[-1.9,-2.2],[-1.85,-1.7],[-1.82,-2.55],[-1.8,-1.25],[-1.75,-1.95],[-1.72,-1.5],[-1.7,-2.35],[-1.65,-1.35],[-1.62,-1.75],[-1.6,-2.2],[-1.58,-1.15],[-1.52,-1.6],[-1.5,-1.9],[-1.45,-1.4],[-1.42,-1.15],[-1.38,-1.6],[-1.32,-1.3],[-1.25,-1.1],[-1.22,-1.6],[-1.15,-1.25],[-1.12,-.95],[-1.05,-1.1],[-.98,-.85],[-.92,-1.1],[-.85,-.7],[-.8,-.95],[-.72,-.65],[-.65,-.8],[-.6,-.5],[-.55,-.75],[-.45,-.4],[-.38,-.6],[-.32,-.25],[-.3,-.5],[-.22,-.2]];
const extraP=[[-2.92,-2.5],[-2.88,-2.95],[-2.82,-2.35],[-2.78,-2.75],[-2.68,-2.1],[-2.66,-2.5],[-2.6,-2.85],[-2.56,-2.3],[-2.52,-2.05],[-2.46,-2.4],[-2.44,-1.9],[-2.4,-2.8],[-2.36,-2.1],[-2.32,-2.55],[-2.3,-1.9],[-2.26,-2.35],[-2.22,-2.9],[-2.2,-2.1],[-2.16,-1.6],[-2.14,-2.45],[-2.08,-1.95],[-2.06,-2.7],[-2.04,-2.15],[-1.98,-1.7],[-1.96,-2.35],[-1.92,-2.05],[-1.88,-1.5],[-1.86,-2.45],[-1.82,-1.95],[-1.78,-1.55],[-1.76,-2.2],[-1.72,-1.75],[-1.68,-2.1],[-1.66,-1.2],[-1.6,-1.5],[-1.58,-1.95],[-1.54,-1.3],[-1.48,-1.65],[-1.46,-1.15],[-1.42,-1.45],[-1.36,-1.05],[-1.34,-1.5],[-1.28,-1.3],[-1.2,-1.0],[-1.18,-1.4],[-1.1,-1.05],[-1.08,-1.25],[-1.0,-.9],[-.95,-1.0],[-.88,-.85],[-.78,-.75],[-.75,-.55],[-.68,-.72],[-.62,-.65],[-.5,-.55],[-.42,-.55],[-.35,-.35],[-.26,-.32]];
const riverP=[[-1.21,-1.41],[-1,-.99],[-.91,-.72],[-.71,-.86],[-.53,-.37],[-.18,-.02]];
const coastQ=[[-2.41,-.73],[-2.17,-.65],[-2.05,-.56],[-1.6,-.62],[-1.65,-.86],[-3.04,-3.46],[-1.78,-3.7],[-2.62,-3.18],[-2.49,-3],[-2.72,-1.45],[-2.68,-1.75],[-2.65,-2.0],[-2.62,-1.6],[-2.58,-2.3],[-2.55,-1.9],[-2.52,-2.6],[-2.5,-1.5],[-2.5,-2.15],[-2.45,-1.75],[-2.45,-2.5],[-2.42,-2.0],[-2.4,-2.8],[-2.38,-1.55],[-2.35,-2.25],[-2.32,-1.85],[-2.28,-2.05],[-2.28,-2.7],[-2.25,-1.5],[-2.22,-2.4],[-2.2,-1.75],[-2.18,-2.1],[-2.15,-1.45],[-2.12,-2.55],[-2.1,-1.85],[-2.05,-2.2],[-2.02,-1.55],[-2.0,-2.45],[-1.98,-1.75],[-1.95,-1.35],[-1.92,-2.6],[-1.9,-2.0],[-1.88,-1.55],[-1.85,-1.05],[-1.85,-2.35],[-1.82,-1.75],[-1.78,-1.3],[-1.75,-2.0],[-1.72,-2.45],[-1.7,-1.5],[-1.68,-1.0],[-1.62,-2.3],[-1.62,-1.25],[-1.6,-1.85],[-1.55,-1.45],[-1.5,-1.05],[-1.5,-1.7],[-1.42,-1.25],[-1.4,-.98],[-1.32,-1.15],[-1.25,-.98],[-1.2,-1.05],[-1.15,-.85],[-1.05,-.78],[-.95,-.7],[-.85,-.62],[-.8,-.58],[-.72,-.5],[-.65,-.42],[-.6,-.35],[-.5,-.25],[-.42,-.12],[-.38,-.08],[-.28,.1],[-.22,.15],[-3.0,-2.62],[-2.9,-2.45],[-2.85,-2.15],[-2.82,-2.0]];
const extraQ=[[-2.95,-2.4],[-2.92,-2.65],[-2.88,-2.2],[-2.8,-2.35],[-2.78,-1.85],[-2.75,-2.55],[-2.7,-2.1],[-2.66,-2.4],[-2.62,-1.95],[-2.6,-2.75],[-2.56,-1.7],[-2.54,-2.45],[-2.48,-2.0],[-2.46,-1.6],[-2.44,-2.25],[-2.4,-1.85],[-2.36,-2.55],[-2.34,-1.95],[-2.3,-1.6],[-2.3,-2.4],[-2.26,-2.2],[-2.24,-1.8],[-2.2,-2.55],[-2.16,-1.9],[-2.14,-2.3],[-2.1,-1.6],[-2.08,-2.45],[-2.04,-1.95],[-2.02,-2.1],[-2,-1.7],[-1.96,-2.25],[-1.94,-1.9],[-1.9,-1.45],[-1.88,-2.45],[-1.84,-1.55],[-1.8,-2.15],[-1.8,-1.0],[-1.76,-1.6],[-1.74,-2.35],[-1.7,-1.85],[-1.66,-1.3],[-1.66,-2.15],[-1.6,-1.35],[-1.58,-1.6],[-1.52,-1.25],[-1.48,-1.5],[-1.45,-1.1],[-1.38,-1.35],[-1.35,-1.05],[-1.28,-1.15],[-1.22,-.92],[-1.12,-.92],[-1.0,-.75],[-.9,-.65],[-.75,-.6],[-.68,-.48],[-.55,-.35],[-.46,-.2],[-.34,0]];
const riverQ=[[-1.21,-1.21],[-1,-.81],[-.92,-.51],[-.73,-.53],[-.53,-.15],[-.19,.22]];
const oceanR=[[-3.5,-3.3],[-3.48,-3.2],[-3.45,-3.4],[-3.42,-3.15],[-3.4,-3.3],[-3.36,-3.0],[-3.35,-3.38],[-3.3,-3.1],[-3.28,-3.38],[-3.22,-3.05],[-3.2,-3.35],[-3.14,-3.0],[-3.1,-3.2],[-3.1,-2.75],[-3.08,-3.3],[-3.0,-3.05],[-2.95,-2.85],[-2.88,-2.75]];
const coastR=[[-2.58,-3.46],[-.75,-1.8],[-1.6,-1.36],[-1.65,-1.42],[-1.13,-1.54],[-1.6,-3.27],[-2.98,-3.2],[-3.0,-2.75],[-2.85,-3.0],[-2.75,-2.85],[-2.7,-2.45],[-2.68,-3.05],[-2.62,-2.15],[-2.6,-2.7],[-2.58,-3.0],[-2.52,-2.4],[-2.5,-2.75],[-2.48,-2.1],[-2.42,-2.55],[-2.4,-2.95],[-2.38,-1.9],[-2.35,-2.25],[-2.32,-2.7],[-2.28,-2.05],[-2.25,-2.85],[-2.22,-1.8],[-2.2,-2.45],[-2.15,-2.2],[-2.12,-3.05],[-2.1,-1.65],[-2.08,-2.65],[-2.05,-2.0],[-2.02,-2.4],[-2.0,-1.9],[-1.98,-1.55],[-1.92,-2.2],[-1.9,-2.75],[-1.88,-1.7],[-1.82,-2.5],[-1.8,-2.05],[-1.78,-1.55],[-1.72,-2.3],[-1.7,-2.8],[-1.68,-1.85],[-1.62,-1.65],[-1.6,-2.15],[-1.55,-2.5],[-1.52,-2.9],[-1.5,-1.9],[-1.45,-2.3],[-1.4,-2.65],[-1.38,-1.75],[-1.3,-2.1],[-1.28,-1.6],[-1.25,-2.7],[-1.2,-2.4],[-1.18,-1.8],[-1.12,-2.15],[-1.1,-2.65],[-1.05,-1.75],[-1.02,-2.5],[-1,-2.0],[-.95,-1.65],[-.88,-1.7],[-.82,-1.65]];
const extraR=[[-2.82,-2.85],[-2.72,-2.6],[-2.64,-2.85],[-2.56,-2.5],[-2.46,-2.85],[-2.44,-2.35],[-2.36,-2.6],[-2.3,-2.9],[-2.26,-2.3],[-2.18,-2.75],[-2.16,-2.0],[-2.1,-2.5],[-2.04,-2.85],[-1.96,-2.6],[-1.94,-2.05],[-1.86,-2.35],[-1.84,-2.85],[-1.76,-2.65],[-1.74,-1.95],[-1.66,-2.5],[-1.64,-2.05],[-1.58,-2.75],[-1.48,-2.65],[-1.42,-2.05],[-1.35,-2.45],[-1.32,-1.85],[-1.22,-2.15],[-1.16,-2.5],[-1.08,-1.95],[-.98,-2.3]];
const oceanExtraR=[[-3.38,-3.25],[-3.25,-3.2],[-3.16,-3.15],[-3.05,-3.0],[-2.92,-2.95],[-2.82,-2.7]];
const oceanExtraO=[[-1.2,-1.3],[-1.14,-1.55],[-1.06,-1.35],[-1.0,-1.45],[-.92,-1.3]];
const oceanExtraJ=[[-1.88,-2.0],[-1.78,-1.85],[-1.7,-1.7],[-1.6,-1.65],[-1.52,-1.55],[-1.46,-1.35]];
const oceanExtraM=[[-1.34,-1.18],[-1.26,-1.08],[-1.16,-1.12],[-1.12,-.9],[-1.08,-.65]];
const oceanExtraP=[[-3.38,-2.75],[-3.24,-2.6],[-3.16,-2.85],[-3.06,-2.8],[-3.0,-2.5]];

const marksByPanel = {
  A:[oceanA,coastA.concat(extraA),[]],B:[[],coastB.concat(extraB),[]],C:[oceanC,coastC.concat(extraC),[]],
  D:[oceanD.concat(oceanExtraD),coastD.concat(extraD),[]],E:[[],coastE.concat(extraE),[]],F:[oceanF,coastF.concat(extraF),[]],
  G:[oceanG,coastG.concat(extraG),riverG],H:[[],coastH.concat(extraH),riverH],I:[oceanI,coastI.concat(extraI),[]],
  J:[oceanJ.concat(oceanExtraJ),coastJ.concat(extraJ),riverJ],K:[[],coastK.concat(extraK),riverK],L:[oceanL,coastL.concat(extraL),[]],
  M:[oceanM.concat(oceanExtraM),coastM.concat(extraM),riverM],N:[[],coastN.concat(extraN),riverN],O:[oceanO.concat(oceanExtraO),coastO.concat(extraO),[]],
  P:[oceanP.concat(oceanExtraP),coastP.concat(extraP),riverP],Q:[[],coastQ.concat(extraQ),riverQ],R:[oceanR.concat(oceanExtraR),coastR.concat(extraR),[]]
};
const sourceNames = ['ocean','coast','river'];
const sourceFills = ['#0000ff','#808080','#ff9a1a'];
const oceanStemPanels = ['D','G','M','O','P','R'];
const coastStemPanels = ['O','R'];

const W = 525.5, H = 272.5, LOG_MIN = -4, LOG_SPAN = 6;
const sx = v => (v - LOG_MIN) * W / LOG_SPAN;
const sy = v => H - (v - LOG_MIN) * H / LOG_SPAN;
const NS = 'http://www.w3.org/2000/svg';
function mk(tag, attrs, parent){
  const el = document.createElementNS(NS, tag);
  for (const k in attrs) el.setAttribute(k, attrs[k]);
  parent.appendChild(el);
  return el;
}
function tickLabel(parent, x, y, exp, anchor){
  const t = mk('text', {x:x, y:y, 'text-anchor':anchor, class:'tl'}, parent);
  
  
  t.appendChild(document.createTextNode('10'));
  const s = mk('tspan', {dy:-12, 'font-size':23}, t);
  s.textContent = exp;
}

document.querySelectorAll('g.panel').forEach((panel, idx) => {
  const letter = panelLetters[idx];
  const col = idx % 3, row = Math.floor(idx / 3);
  const root = panel.querySelector('.marks');

  const grid = mk('g', {stroke:'#e6e6e6', 'stroke-width':3.4}, root);
  
  
  decadeExponents.slice(1, -1).forEach(e => {
    const v = mk('line', {x1:sx(e), x2:sx(e), y1:0, y2:H}, grid);
    
    
    const h = mk('line', {x1:0, x2:W, y1:sy(e), y2:sy(e)}, grid);
    
    
  });

  const ticks = mk('g', {stroke:'#222', fill:'none'}, root);
  
  
  decadeExponents.forEach(e => {
    const mx = mk('line', {x1:sx(e), x2:sx(e), y1:H, y2:H-28, 'stroke-width':1.8}, ticks);
    
    
    const my = mk('line', {x1:0, x2:28, y1:sy(e), y2:sy(e), 'stroke-width':2.2}, ticks);
    
    
    if (row === 5) {
      const ox = mk('line', {x1:sx(e), x2:sx(e), y1:H, y2:H+12, 'stroke-width':3.2, stroke:'#333'}, ticks);
      
      
    }
    if (col === 0) {
      const oy = mk('line', {x1:-12, x2:0, y1:sy(e), y2:sy(e), 'stroke-width':3.2, stroke:'#333'}, ticks);
      
      
    }
    if (e < 2) minorMultipliers.forEach(m => {
      const lv = e + Math.log10(m), len = m === 5 ? 19 : 10;
      const nx = mk('line', {x1:sx(lv), x2:sx(lv), y1:H, y2:H-len, 'stroke-width':1.4}, ticks);
      
      
      const ny = mk('line', {x1:0, x2:len, y1:sy(lv), y2:sy(lv), 'stroke-width':1.4}, ticks);
      
      
    });
  });

  const series = marksByPanel[letter];
  const triangles = col === 2;
  series.forEach((pts, s) => {
    const stem = (s === 0 && oceanStemPanels.includes(letter)) || (s === 1 && coastStemPanels.includes(letter));
    if (stem) pts.forEach(p => {
      const st = mk('line', {x1:sx(p[0]), x2:sx(p[0]), y1:sy(p[1]), y2:sy(p[1])+16, stroke:s===0?'#0000ff':'#999', 'stroke-width':3}, root);
      
      
    });
  });
  series.forEach((pts, s) => {
    const isTri = triangles || s === 0;
    const layer = mk('g', {fill:sourceFills[s], stroke:'#1a1a1a', 'stroke-width':1.8}, root);
    
    
    pts.forEach(p => {
      const x = sx(p[0]), y = sy(p[1]);
      if (isTri) {
        const tri = mk('polygon', {points:[x, y-12, x+11, y+8, x-11, y+8].join(' ')}, layer);
        
        
      } else {
        const c = mk('circle', {cx:x, cy:y, r:8.7}, layer);
        
        
      }
    });
  });

  const oneToOne = mk('line', {x1:sx(-4), y1:sy(-4), x2:sx(2), y2:sy(2), stroke:'#000', 'stroke-width':3.6}, root);
  
  
  const fit = mk('line', {x1:sx(fitStart), y1:sy(slopes[idx]*fitStart+intercepts[idx]), x2:sx(fitEnd), y2:sy(Math.min(2,slopes[idx]*fitEnd+intercepts[idx])), stroke:'#f0141e', 'stroke-width':3.7, 'stroke-dasharray':'15 12'}, root);
  
  

  const frame = mk('rect', {x:0, y:0, width:W, height:H, fill:'none', stroke:'#444', 'stroke-width':2.4}, root);
  
  

  panel.querySelectorAll('text.st').forEach(t => {
    const b = t.getBBox();
    const r = document.createElementNS(NS, 'rect');
    r.setAttribute('x', b.x - 1);
    r.setAttribute('y', Number(t.getAttribute('y')) - 21);
    r.setAttribute('width', b.width + 2);
    r.setAttribute('height', 28);
    r.setAttribute('fill', '#fff');
    r.setAttribute('fill-opacity', '0.72');
    
    
    panel.insertBefore(r, t);
  });

  if (col === 0) decadeExponents.forEach((e, i) => {
    tickLabel(panel, -22, sy(e) + 16, decadeLabels[i], 'end');
  });
  if (row === 5) decadeExponents.forEach((e, i) => {
    tickLabel(panel, sx(e), H + 52, decadeLabels[i], 'middle');
  });
});
</script>
</body>
</html>
